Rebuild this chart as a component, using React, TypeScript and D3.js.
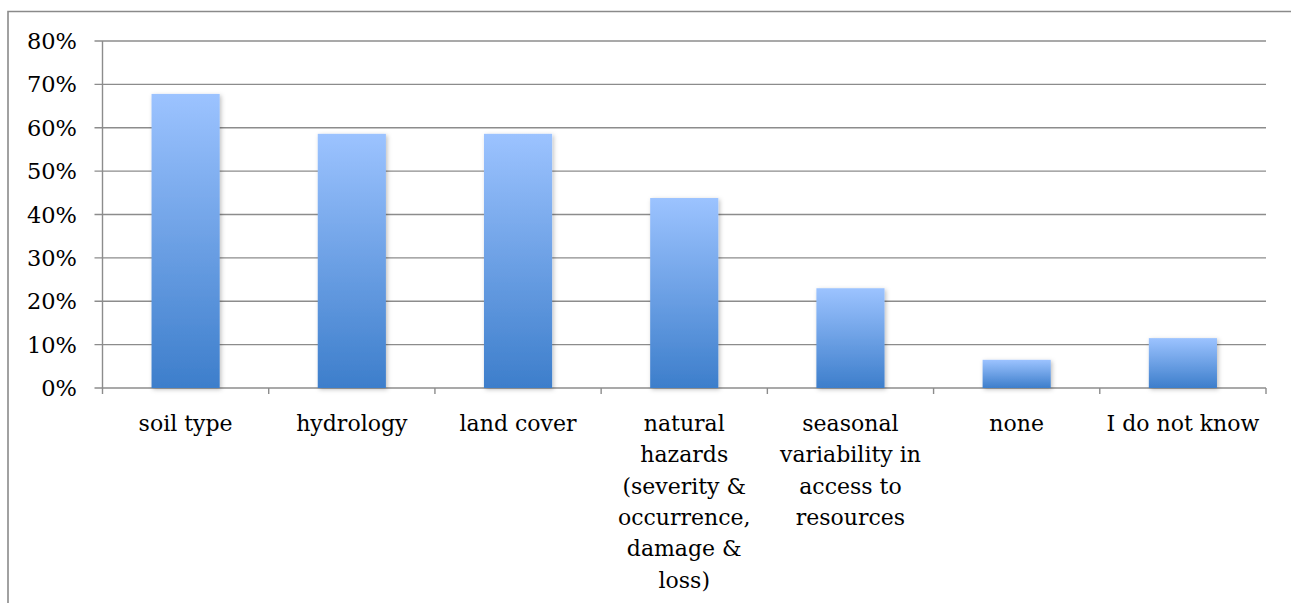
import React from "react";
import * as d3 from "d3";

const categories: string[][] = [
  ["soil type"],
  ["hydrology"],
  ["land cover"],
  ["natural", "hazards", "(severity &", "occurrence,", "damage &", "loss)"],
  ["seasonal", "variability in", "access to", "resources"],
  ["none"],
  ["I do not know"],
];
const values: number[] = [0.678, 0.586, 0.586, 0.438, 0.23, 0.065, 0.115];
const yTicks: number[] = [0, 0.1, 0.2, 0.3, 0.4, 0.5, 0.6, 0.7, 0.8];

const W = 1291;
const H = 603;
const left = 102.5;
const right = 1266;
const top = 41;
const bottom = 388;
const FONT = "'DejaVu Serif', serif";

export default function App() {
  const keys = categories.map((c) => c.join(" "));
  const x = d3.scaleBand<string>().domain(keys).range([left, right]).paddingInner(0.59).paddingOuter(0.295);
  const xb = d3.scaleBand<string>().domain(keys).range([left, right]);
  const y = d3.scaleLinear().domain([0, 0.8]).range([bottom, top]);
  const fmt = d3.format(".0%");
  return (
    <svg width={W} height={H} style={{ position: "absolute", left: 0, top: 0 }}>
      <defs>
        <linearGradient id="barGrad" x1="0" y1="0" x2="0" y2="1">
          <stop offset="0" stopColor="#9cc3ff" />
          <stop offset="1" stopColor="#3d7ecb" />
        </linearGradient>
        <filter id="shadow" x="-20%" y="-20%" width="140%" height="140%">
          <feDropShadow dx="1.5" dy="1.5" stdDeviation="2" floodColor="#000" floodOpacity="0.25" />
        </filter>
      </defs>
      <rect width={W} height={H} fill="#fff" />
      {/* outer frame */}
      <path d={`M8,${H + 2} V11.5 H${W + 2}`} fill="none" stroke="#8a8a8a" strokeWidth={1.6} />
      {/* gridlines */}
      {yTicks.map((t) => (
        <line key={t} x1={left - 8} x2={right} y1={y(t)} y2={y(t)} stroke="#8c8c8c" strokeWidth={1.4} />
      ))}
      {/* y axis line */}
      <line x1={left} x2={left} y1={top} y2={bottom} stroke="#8c8c8c" strokeWidth={1.4} />
      {/* x category ticks */}
      {[...keys.map((k) => xb(k) as number), right].map((v, i) => (
        <line key={i} x1={v} x2={v} y1={bottom} y2={bottom + 6} stroke="#8c8c8c" strokeWidth={1.4} />
      ))}
      {/* y labels */}
      {yTicks.map((t) => (
        <text key={t} x={77} y={y(t)} dy="0.36em" textAnchor="end" fontFamily={FONT} fontSize={22.5} fill="#000">
          {fmt(t)}
        </text>
      ))}
      {/* bars */}
      {values.map((v, i) => (
        <rect
          key={keys[i]}
          x={x(keys[i])}
          y={y(v)}
          width={x.bandwidth()}
          height={bottom - y(v)}
          fill="url(#barGrad)"
          filter="url(#shadow)"
        />
      ))}
      {/* x labels */}
      {categories.map((lines, i) => (
        <text
          key={keys[i]}
          x={(xb(keys[i]) as number) + xb.bandwidth() / 2}
          y={431}
          textAnchor="middle"
          fontFamily={FONT}
          fontSize={22}
          fill="#000"
        >
          {lines.map((l, j) => (
            <tspan key={j} x={(xb(keys[i]) as number) + xb.bandwidth() / 2} dy={j === 0 ? 0 : 31.3}>
              {l}
            </tspan>
          ))}
        </text>
      ))}
    </svg>
  );
}
